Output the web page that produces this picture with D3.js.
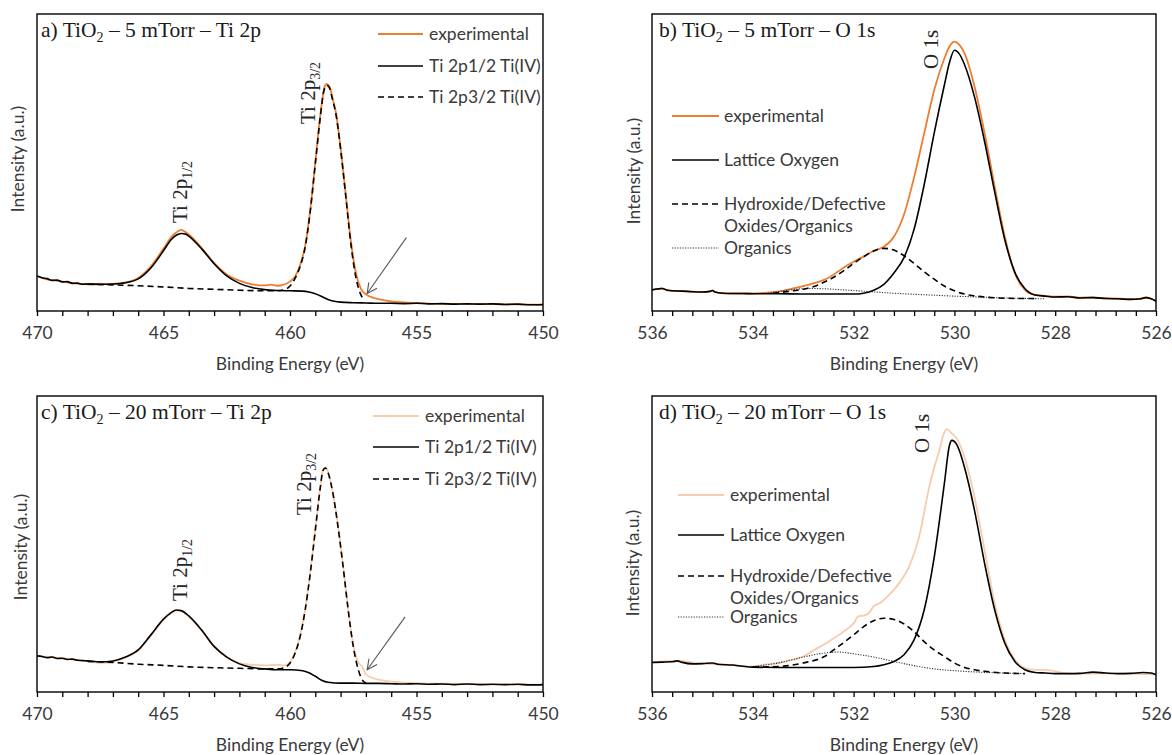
<!DOCTYPE html>
<html>
<head>
<meta charset="utf-8">
<script src="https://cdn.jsdelivr.net/npm/d3@7"></script>
<style>
  body { margin: 0; background: #fff; }
  svg { display: block; }
</style>
</head>
<body>
<svg id="chart" width="1172" height="755"></svg>
<script>
// ---- data: [binding energy (eV), intensity (% of plot height)] ----

// a) TiO2 - 5 mTorr - Ti 2p
const aExperimental = [[470,11.8],[469.75,11.0],[469.5,10.5],[469.25,10.2],[469,9.9],[468.75,9.6],[468.5,9.3],[468.25,9.1],[468,9.0],[467.5,9.0],[467,9.1],[466.5,9.6],[466,11.1],[465.5,15.0],[465,21.0],[464.7,24.8],[464.5,26.4],[464.3,27.3],[464.1,26.4],[464,25.8],[463.5,21.3],[463,16.2],[462.5,12.3],[462,10.2],[461.5,9.0],[461,8.6],[460.75,8.9],[460.5,8.5],[460.25,8.9],[460,9.9],[459.8,11.6],[459.6,15.5],[459.4,22],[459.2,34],[459,50],[458.8,66],[458.65,75],[458.55,76.5],[458.45,75.8],[458.3,71],[458.2,67.5],[458,55],[457.8,39.5],[457.6,24],[457.4,13],[457.2,7.5],[457,5.6],[456.75,4.6],[456.5,4.0],[456,3.2],[455.5,2.9],[455,2.7],[454.5,2.5],[454,2.4],[453,2.4],[452,2.3],[451,2.2],[450,2.1]];
const aTi2p12 = [[470,11.8],[469.8,11.2],[469.6,10.9],[469.4,10.3],[469.2,10.4],[469,9.8],[468.8,9.9],[468.6,9.3],[468.4,9.4],[468.2,9.0],[468,9.1],[467.5,9.0],[467,9.1],[466.5,9.5],[466,10.8],[465.5,14.5],[465,20.3],[464.7,24.0],[464.5,25.5],[464.3,26.1],[464.1,25.8],[464,25.2],[463.5,21.0],[463,15.9],[462.5,11.8],[462,9.3],[461.5,7.9],[461,7.2],[460.5,6.9],[460,6.8],[459.5,6.7],[459.25,6.4],[459,5.8],[458.75,4.9],[458.5,3.9],[458.25,3.3],[458,3.0],[457.5,2.8],[457,2.7],[456.5,2.6],[456,2.6],[455.5,2.5],[455,2.6],[454.5,2.4],[454,2.5],[453.5,2.3],[453,2.4],[452.5,2.3],[452,2.4],[451.5,2.2],[451,2.3],[450.5,2.1],[450,2.2]];
const aTi2p32 = [[468,9.0],[467,8.8],[466,8.5],[465,8.1],[464,7.6],[463,7.3],[462,7.0],[461,6.8],[460.5,6.8],[460.2,7.2],[460,8.4],[459.8,11.0],[459.6,15.0],[459.4,21.5],[459.2,33.5],[459,49.5],[458.8,65.5],[458.65,74.5],[458.55,76],[458.45,75.3],[458.3,70.5],[458.2,67],[458,54.5],[457.8,39],[457.6,23],[457.4,11.5],[457.2,5.5],[457.1,4.0]];
const aArrow = [[455.4,24.7],[456.95,5.9]];

// b) TiO2 - 5 mTorr - O 1s
const bExperimental = [[536,7.1],[535.9,7.4],[535.8,7.6],[535.7,7.0],[535.6,6.8],[535.4,6.7],[535.2,6.5],[535,6.4],[534.85,6.6],[534.8,6.9],[534.75,6.4],[534.6,6.0],[534.4,5.9],[534.2,5.9],[534,5.9],[533.8,6.1],[533.5,6.5],[533.2,7.6],[533,8.4],[532.8,9.3],[532.6,10.4],[532.5,11.2],[532.3,13.4],[532.2,14.6],[532,16.6],[531.8,18.3],[531.6,20.3],[531.4,21.6],[531.2,25.0],[531,32.5],[530.8,45],[530.6,59.8],[530.4,74.4],[530.2,85],[530.1,89],[530,90.7],[529.9,89.6],[529.8,86.8],[529.6,75.5],[529.4,59.8],[529.2,41.9],[529,25],[528.8,12.7],[528.6,7.1],[528.4,5.4],[528.2,5.1],[528,4.8],[527.75,4.9],[527.5,4.5],[527.25,4.6],[527,4.3],[526.75,4.2],[526.5,4.0],[526.3,4.2],[526.2,4.6],[526.1,4.2],[526,3.4]];
const bLattice = [[536,7.1],[535.9,7.4],[535.8,7.6],[535.7,7.0],[535.6,6.8],[535.4,6.7],[535.2,6.5],[535,6.4],[534.85,6.6],[534.8,6.9],[534.75,6.4],[534.6,6.0],[534.4,5.9],[534.2,5.9],[534,5.8],[533.5,5.8],[533,5.7],[532.5,5.7],[532,5.7],[531.8,6.0],[531.6,7.0],[531.4,9.0],[531.2,12.8],[531,18.0],[530.8,27.5],[530.6,42.5],[530.4,60],[530.2,76],[530.1,83.5],[530,87.8],[529.9,86.5],[529.8,83],[529.6,72],[529.4,57],[529.2,40],[529,24],[528.8,13],[528.6,7.5],[528.4,5.4],[528.2,5.0],[528,4.7],[527.75,4.8],[527.5,4.4],[527.25,4.5],[527,4.2],[526.75,4.1],[526.5,3.9],[526.3,4.1],[526.2,4.5],[526.1,4.1],[526,3.3]];
const bHydroxide = [[533.6,6.0],[533.2,6.8],[533,7.3],[532.8,8.2],[532.5,10.4],[532.2,13.5],[532,16.0],[531.8,18.3],[531.6,20.2],[531.4,21.1],[531.2,20.5],[531,18.6],[530.8,16.0],[530.6,13.2],[530.4,10.7],[530.2,8.4],[530,6.8],[529.8,5.7],[529.6,5.1],[529.4,4.7],[529,4.3],[528.6,4.2],[528.4,4.2]];
const bOrganics = [[533.7,6.0],[533.4,6.8],[533.1,7.4],[532.9,7.6],[532.6,7.5],[532.3,7.2],[532,6.9],[531.5,6.3],[531,5.8],[530.5,5.4],[530,5.0],[529.5,4.7],[529,4.4],[528.5,4.2],[528.2,4.1]];

// c) TiO2 - 20 mTorr - Ti 2p
const cExperimental = [[470,12.2],[469,11.4],[468,10.4],[467.5,9.8],[467,10.2],[466.5,11.6],[466,14.0],[465.5,19.0],[465,24.4],[464.7,26.6],[464.5,27.5],[464.3,27.3],[464,25.5],[463.5,20.8],[463,15.3],[462.5,11.8],[462,9.8],[461.5,9.2],[461,9.0],[460.5,9.2],[460.2,9.0],[460,10],[459.8,13.3],[459.6,19],[459.4,28],[459.2,40.3],[459,55],[458.8,69.5],[458.7,75],[458.6,76],[458.5,74.5],[458.3,67.2],[458.1,56],[457.9,42.6],[457.7,28],[457.5,16],[457.3,10],[457.15,8.6],[457,6.0],[456.75,4.8],[456.5,4.2],[456,3.5],[455.5,3.2],[455,3.0],[454,2.8],[453,2.7],[452,2.6],[451,2.6],[450,2.5]];
const cTi2p12 = [[470,12.2],[469.8,12.0],[469.6,11.6],[469.4,11.8],[469.2,11.3],[469,11.4],[468.8,11.0],[468.6,11.1],[468.4,10.7],[468.2,10.6],[468,10.5],[467.5,10.2],[467,10.5],[466.5,11.8],[466,14.2],[465.5,19.3],[465,24.6],[464.7,26.8],[464.5,27.7],[464.3,27.5],[464,25.7],[463.5,21.0],[463,15.4],[462.5,11.8],[462,9.5],[461.5,8.3],[461,7.8],[460.5,7.5],[460,7.5],[459.5,7.2],[459.25,6.5],[459,5.3],[458.75,4.0],[458.5,3.3],[458,3.0],[457.5,3.0],[457,2.9],[456.5,2.9],[456,2.8],[455.5,2.7],[455,2.8],[454.5,2.6],[454,2.7],[453.5,2.5],[453,2.7],[452.5,2.5],[452,2.6],[451.5,2.5],[451,2.6],[450.5,2.4],[450,2.5]];
const cTi2p32 = [[468,10.3],[467,10.0],[466,9.4],[465,9.0],[464,8.5],[463,8.2],[462,8.0],[461,7.8],[460.5,7.8],[460.2,8.3],[460,9.8],[459.8,13.1],[459.6,18.7],[459.4,27.7],[459.2,40],[459,54.6],[458.8,69.2],[458.7,74.8],[458.6,75.7],[458.5,74.2],[458.3,66.9],[458.1,55.7],[457.9,42.3],[457.7,27.7],[457.5,15.4],[457.3,7.5],[457.1,3.6],[457.0,3.0]];
const cArrow = [[455.45,25.4],[456.95,7.5]];

// d) TiO2 - 20 mTorr - O 1s
const dExperimental = [[536,10.0],[535.5,10.5],[535,9.6],[534.5,9.2],[534,8.6],[533.8,9.2],[533.5,9.8],[533.2,10.9],[533,12.0],[532.8,14.0],[532.5,17.0],[532.2,20.4],[532,23.2],[531.9,25.6],[531.8,25.8],[531.7,26.6],[531.6,29.0],[531.5,29.8],[531.3,32.7],[531.1,36.7],[530.9,42.3],[530.7,52.4],[530.5,69.2],[530.4,75.9],[530.3,81.5],[530.2,87.7],[530.15,88.8],[530.05,87.3],[529.95,85.6],[529.8,79.3],[529.6,65.8],[529.4,47.9],[529.2,29.9],[529,17.6],[528.8,10.9],[528.6,8.1],[528.4,7.5],[528.2,7.5],[528,7.0],[527.8,6.4],[527.6,6.2],[527,6.3],[526.5,6.2],[526,5.9]];
const dLattice = [[536,10.0],[535.8,10.1],[535.6,10.2],[535.5,10.5],[535.4,10.0],[535.2,9.5],[535,9.6],[534.8,9.8],[534.7,9.4],[534.4,9.1],[534.2,8.7],[534,8.4],[533.5,8.3],[533,8.3],[532.5,8.3],[532,8.3],[531.6,8.6],[531.4,9.2],[531.2,10.3],[531,12.6],[530.8,17.6],[530.6,27.7],[530.4,45.6],[530.2,70.3],[530.1,83.2],[530.05,85.0],[529.95,83.5],[529.9,81.5],[529.8,75.9],[529.6,61.3],[529.4,43.4],[529.2,27.7],[529,16.5],[528.8,10.3],[528.6,7.5],[528.4,6.6],[528.2,6.4],[528,6.2],[527.75,6.2],[527.5,6.3],[527.25,6.7],[527,6.4],[526.75,6.2],[526.5,6.3],[526.25,6.6],[526.1,6.4],[526,5.8]];
const dHydroxide = [[534,8.4],[533.5,8.6],[533,9.8],[532.6,11.8],[532.3,15.4],[532,19.3],[531.8,22.1],[531.6,24.1],[531.4,24.9],[531.2,24.5],[531,23.0],[530.8,20.4],[530.6,17.0],[530.4,14.2],[530.2,12.0],[530,9.8],[529.8,8.3],[529.6,7.5],[529.4,7.0],[529,6.4],[528.6,6.2]];
const dOrganics = [[534,8.6],[533.5,9.8],[533,11.8],[532.6,13.1],[532.3,13.5],[532,12.9],[531.6,11.8],[531.2,10.3],[530.8,8.9],[530.4,7.8],[530,7.2],[529.5,6.7],[529,6.4],[528.6,6.2]];

// axes
const tiDomain = [470, 450];
const tiMajor = [470, 465, 460, 455, 450];
const oDomain = [536, 526];
const oMajor = [536, 534, 532, 530, 528, 526];

const tiLegend = ["experimental", "Ti 2p1/2 Ti(IV)", "Ti 2p3/2 Ti(IV)"];
const oLegend = ["experimental", "Lattice Oxygen", "Hydroxide/Defective", "Oxides/Organics", "Organics"];

// ---- drawing ----
const svg = d3.select('#chart');
const sans = 'Lato, "Open Sans", sans-serif';
const serif = '"Liberation Serif", "Times New Roman", serif';
const textGrey = '#3a3a3a';
const sansSize = 17.5;
const orange = '#ED7D31';
const lightOrange = '#F8CBAD';

const styles = {
  solid:  { stroke: '#000', width: 1.6, dash: null },
  dashed: { stroke: '#000', width: 1.6, dash: '6,4' },
  dotted: { stroke: '#333', width: 1.1, dash: '1.2,1.4' }
};

svg.append('defs').append('marker')
  .attr('id', 'arrowhead')
  .attr('viewBox', '0 0 12 12')
  .attr('refX', 11).attr('refY', 6)
  .attr('markerWidth', 12).attr('markerHeight', 12)
  .attr('markerUnits', 'userSpaceOnUse')
  .attr('orient', 'auto')
  .append('path')
  .attr('d', 'M1,1 L11,6 L1,11')
  .attr('fill', 'none')
  .attr('stroke', '#555')
  .attr('stroke-width', 1.1);

const panels = [
  {
    box: [37, 543, 14, 311], domain: tiDomain, major: tiMajor,
    minor: d3.range(0, 21).map(i => 450 + i),
    title: ['a) TiO', '2', ' – 5 mTorr – Ti 2p'], titleX: 41,
    yLabel: [18, 159],
    series: [
      { data: aExperimental, color: orange, style: 'solid', width: 1.8 },
      { data: aTi2p32, style: 'dashed' },
      { data: aTi2p12, style: 'solid' }
    ],
    legend: { x1: 378, x2: 423, tx: 429, rows: [
      { y: 34, text: tiLegend[0], color: orange, style: 'solid' },
      { y: 66, text: tiLegend[1], style: 'solid' },
      { y: 97, text: tiLegend[2], style: 'dashed' }
    ]},
    peaks: [
      { x: 187, y: 223, main: 'Ti 2p', sub: '1/2' },
      { x: 315, y: 124, main: 'Ti 2p', sub: '3/2' }
    ],
    arrow: aArrow
  },
  {
    box: [652, 1156, 14, 311], domain: oDomain, major: oMajor,
    minor: d3.range(0, 26).map(i => 526 + i * 0.4),
    title: ['b) TiO', '2', ' – 5 mTorr – O 1s'], titleX: 659,
    yLabel: [634, 171],
    series: [
      { data: bExperimental, color: orange, style: 'solid', width: 1.8 },
      { data: bOrganics, style: 'dotted' },
      { data: bHydroxide, style: 'dashed' },
      { data: bLattice, style: 'solid' }
    ],
    legend: { x1: 672, x2: 719, tx: 724, rows: [
      { y: 116, text: oLegend[0], color: orange, style: 'solid' },
      { y: 160, text: oLegend[1], style: 'solid' },
      { y: 204, text: oLegend[2], style: 'dashed' },
      { y: 226, text: oLegend[3], style: null },
      { y: 248, text: oLegend[4], style: 'dotted' }
    ]},
    peaks: [ { x: 938, y: 69, main: 'O 1s', sub: '' } ]
  },
  {
    box: [37, 543, 396, 692], domain: tiDomain, major: tiMajor,
    minor: d3.range(0, 21).map(i => 450 + i),
    title: ['c) TiO', '2', ' – 20 mTorr – Ti 2p'], titleX: 41,
    yLabel: [21, 547],
    series: [
      { data: cExperimental, color: lightOrange, style: 'solid', width: 1.8 },
      { data: cTi2p32, style: 'dashed' },
      { data: cTi2p12, style: 'solid' }
    ],
    legend: { x1: 373, x2: 419, tx: 425, rows: [
      { y: 416, text: tiLegend[0], color: lightOrange, style: 'solid' },
      { y: 447, text: tiLegend[1], style: 'solid' },
      { y: 479, text: tiLegend[2], style: 'dashed' }
    ]},
    peaks: [
      { x: 187, y: 601, main: 'Ti 2p', sub: '1/2' },
      { x: 311, y: 515, main: 'Ti 2p', sub: '3/2' }
    ],
    arrow: cArrow
  },
  {
    box: [652, 1156, 396, 692], domain: oDomain, major: oMajor,
    minor: d3.range(0, 26).map(i => 526 + i * 0.4),
    title: ['d) TiO', '2', ' – 20 mTorr – O 1s'], titleX: 659,
    yLabel: [633, 563],
    series: [
      { data: dExperimental, color: lightOrange, style: 'solid', width: 1.8 },
      { data: dOrganics, style: 'dotted' },
      { data: dHydroxide, style: 'dashed' },
      { data: dLattice, style: 'solid' }
    ],
    legend: { x1: 678, x2: 724, tx: 730, rows: [
      { y: 495, text: oLegend[0], color: lightOrange, style: 'solid' },
      { y: 535, text: oLegend[1], style: 'solid' },
      { y: 576, text: oLegend[2], style: 'dashed' },
      { y: 598, text: oLegend[3], style: null },
      { y: 617, text: oLegend[4], style: 'dotted' }
    ]},
    peaks: [ { x: 929, y: 453, main: 'O 1s', sub: '' } ]
  }
];

panels.forEach(p => {
  const [left, right, top, bottom] = p.box;
  const x = d3.scaleLinear().domain(p.domain).range([left, right]);
  const y = d3.scaleLinear().domain([0, 100]).range([bottom, top]);
  const g = svg.append('g');

  // curves
  const line = d3.line().x(d => x(d[0])).y(d => y(d[1])).curve(d3.curveMonotoneX);
  p.series.forEach(s => {
    const st = styles[s.style];
    g.append('path')
      .datum(s.data)
      .attr('d', line)
      .attr('fill', 'none')
      .attr('stroke', s.color || st.stroke)
      .attr('stroke-width', s.width || st.width)
      .attr('stroke-dasharray', st.dash)
      .attr('stroke-linejoin', 'round');
  });

  // x axis with minor ticks
  const isMajor = v => p.major.some(m => Math.abs(m - v) < 1e-6);
  const axis = d3.axisBottom(x)
    .tickValues(p.minor)
    .tickSizeInner(5).tickSizeOuter(0).tickPadding(11)
    .tickFormat(v => isMajor(v) ? d3.format('d')(Math.round(v)) : '');
  g.append('g')
    .attr('transform', `translate(0,${bottom})`)
    .call(axis)
    .call(a => a.select('.domain').remove())
    .call(a => a.selectAll('.tick line').attr('stroke', '#000').attr('stroke-width', 1.3))
    .call(a => a.selectAll('.tick text')
      .attr('fill', textGrey).attr('font-family', sans).attr('font-size', sansSize));

  // frame
  g.append('rect')
    .attr('x', left).attr('y', top)
    .attr('width', right - left).attr('height', bottom - top)
    .attr('fill', 'none').attr('stroke', '#000').attr('stroke-width', 1.4);

  // axis titles
  g.append('text')
    .attr('x', (left + right) / 2).attr('y', bottom + 53)
    .attr('dy', '0.35em').attr('text-anchor', 'middle')
    .attr('font-family', sans).attr('font-size', sansSize).attr('fill', textGrey)
    .text('Binding Energy (eV)');
  g.append('text')
    .attr('transform', `translate(${p.yLabel[0]},${p.yLabel[1]}) rotate(-90)`)
    .attr('dy', '0.35em').attr('text-anchor', 'middle')
    .attr('font-family', sans).attr('font-size', sansSize).attr('fill', textGrey)
    .text('Intensity (a.u.)');

  // panel title
  const t = g.append('text')
    .attr('x', p.titleX).attr('y', top + 23)
    .attr('font-family', serif).attr('font-size', 21.5).attr('fill', '#1a1a1a');
  t.append('tspan').text(p.title[0]);
  t.append('tspan').attr('font-size', 14).attr('dy', 5).text(p.title[1]);
  t.append('tspan').attr('dy', -5).text(p.title[2]);

  // legend
  const lg = p.legend;
  lg.rows.forEach(r => {
    if (r.style) {
      const st = styles[r.style];
      g.append('line')
        .attr('x1', lg.x1).attr('x2', lg.x2).attr('y1', r.y).attr('y2', r.y)
        .attr('stroke', r.color || st.stroke)
        .attr('stroke-width', r.color ? 1.8 : st.width)
        .attr('stroke-dasharray', st.dash);
    }
    g.append('text')
      .attr('x', lg.tx).attr('y', r.y).attr('dy', '0.35em')
      .attr('font-family', sans).attr('font-size', sansSize).attr('fill', textGrey)
      .text(r.text);
  });

  // peak labels
  p.peaks.forEach(pk => {
    const lt = g.append('text')
      .attr('transform', `translate(${pk.x},${pk.y}) rotate(-90)`)
      .attr('font-family', serif).attr('font-size', 21).attr('fill', '#262626');
    lt.append('tspan').text(pk.main);
    if (pk.sub) lt.append('tspan').attr('font-size', 14).attr('dy', 5).text(pk.sub);
  });

  // arrow pointing to the shoulder
  if (p.arrow) {
    g.append('line')
      .attr('x1', x(p.arrow[0][0])).attr('y1', y(p.arrow[0][1]))
      .attr('x2', x(p.arrow[1][0])).attr('y2', y(p.arrow[1][1]))
      .attr('stroke', '#555').attr('stroke-width', 1.1)
      .attr('marker-end', 'url(#arrowhead)');
  }
});
</script>
</body>
</html>
